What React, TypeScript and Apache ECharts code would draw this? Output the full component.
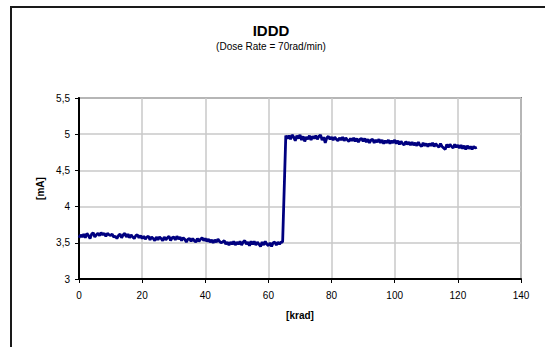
import React, { useEffect, useRef } from "react";
import * as echarts from "echarts";

// krad sampling: first segment starts at 0, second at 65.5, step 0.5
const segAStart = 0;
const segBStart = 65.5;
const step = 0.5;

const segAValues = [
  3.57, 3.61, 3.58, 3.62, 3.57, 3.63, 3.60, 3.56, 3.62, 3.64,
  3.58, 3.61, 3.63, 3.60, 3.64, 3.61, 3.63, 3.59, 3.63, 3.61,
  3.60, 3.62, 3.58, 3.59, 3.56, 3.60, 3.62, 3.57, 3.61, 3.63,
  3.58, 3.62, 3.57, 3.61, 3.58, 3.56, 3.60, 3.61, 3.57, 3.60,
  3.56, 3.59, 3.55, 3.58, 3.59, 3.54, 3.58, 3.56, 3.53, 3.58,
  3.54, 3.58, 3.56, 3.53, 3.58, 3.54, 3.57, 3.59, 3.53, 3.57,
  3.58, 3.54, 3.59, 3.55, 3.58, 3.53, 3.57, 3.55, 3.51, 3.55,
  3.56, 3.52, 3.56, 3.53, 3.51, 3.56, 3.52, 3.55, 3.57, 3.53,
  3.56, 3.52, 3.55, 3.51, 3.54, 3.50, 3.54, 3.51, 3.55, 3.52,
  3.50, 3.51, 3.53, 3.48, 3.51, 3.47, 3.51, 3.48, 3.52, 3.47,
  3.51, 3.48, 3.52, 3.47, 3.51, 3.53, 3.48, 3.51, 3.46, 3.52,
  3.48, 3.52, 3.47, 3.51, 3.48, 3.45, 3.51, 3.47, 3.52, 3.48,
  3.46, 3.50, 3.45, 3.50, 3.51, 3.47, 3.51, 3.48, 3.51, 3.51,
];

const segBValues = [
  4.98,
  4.94, 4.98, 4.93, 4.99, 4.96, 4.91, 4.98, 4.94, 4.99,
  4.92, 4.97, 4.90, 4.96, 4.93, 4.98, 4.92, 4.97, 4.94, 4.98,
  4.93, 4.97, 4.99, 4.92, 4.96, 4.88, 4.95, 4.97, 4.93, 4.96,
  4.92, 4.96, 4.93, 4.91, 4.95, 4.92, 4.96, 4.91, 4.95, 4.92,
  4.90, 4.94, 4.91, 4.95, 4.90, 4.94, 4.89, 4.93, 4.94, 4.90,
  4.94, 4.89, 4.93, 4.88, 4.92, 4.93, 4.88, 4.92, 4.89, 4.93,
  4.88, 4.92, 4.87, 4.91, 4.88, 4.92, 4.87, 4.91, 4.88, 4.92,
  4.87, 4.91, 4.86, 4.90, 4.87, 4.85, 4.90, 4.86, 4.89, 4.85,
  4.89, 4.85, 4.88, 4.84, 4.89, 4.85, 4.83, 4.88, 4.84, 4.87,
  4.83, 4.87, 4.84, 4.88, 4.83, 4.87, 4.84, 4.82, 4.87, 4.83,
  4.81, 4.79, 4.86, 4.82, 4.86, 4.83, 4.81, 4.86, 4.82, 4.85,
  4.81, 4.85, 4.80, 4.84, 4.79, 4.84, 4.80, 4.83, 4.79, 4.83,
  4.81, 4.82,
];

const xTicks = [0, 20, 40, 60, 80, 100, 120, 140];
const yTicks = [3, 3.5, 4, 4.5, 5, 5.5];

const titleText = "IDDD";
const subtitleText = "(Dose Rate = 70rad/min)";
const xName = "[krad]";
const yName = "[mA]";

const FONT = "Arial, 'Liberation Sans', sans-serif";

export default function App() {
  const ref = useRef<HTMLDivElement>(null);

  useEffect(() => {
    if (!ref.current) return;
    const chart = echarts.init(ref.current, null, { renderer: "svg" });

    const data: [number, number][] = [];
    segAValues.forEach((v, i) => data.push([segAStart + i * step, v]));
    segBValues.forEach((v, i) => data.push([segBStart + i * step, v]));

    chart.setOption({
      animation: false,
      backgroundColor: "#ffffff",
      title: [
        {
          text: titleText,
          left: 266,
          top: 18,
          textAlign: "center",
          textStyle: { fontFamily: FONT, fontSize: 15, fontWeight: "bold", color: "#000" },
        },
        {
          text: subtitleText,
          left: 266,
          top: 36,
          textAlign: "center",
          textStyle: { fontFamily: FONT, fontSize: 10, fontWeight: "normal", color: "#000" },
        },
      ],
      graphic: [
        {
          type: "rect",
          shape: { x: 11, y: 7, width: 600, height: 400 },
          style: { fill: "none", stroke: "#1a1a1a", lineWidth: 2 },
          silent: true,
        },
      ],
      grid: {
        left: 79,
        right: 24,
        top: 98,
        bottom: 68,
        show: true,
        borderColor: "#808080",
        borderWidth: 2,
        backgroundColor: "#ffffff",
      },
      xAxis: {
        type: "value",
        min: xTicks[0],
        max: xTicks[xTicks.length - 1],
        interval: 20,
        name: xName,
        nameLocation: "middle",
        nameGap: 31,
        nameTextStyle: { fontFamily: FONT, fontSize: 10, fontWeight: "bold", color: "#000" },
        axisLine: { show: true, onZero: false, lineStyle: { color: "#000", width: 2 } },
        axisTick: { show: true, length: 4, inside: false, lineStyle: { color: "#000", width: 1 } },
        axisLabel: { fontFamily: FONT, fontSize: 10, color: "#000", margin: 11 },
        splitLine: { show: true, lineStyle: { color: "#c8c8c8", width: 1.5 } },
      },
      yAxis: {
        type: "value",
        min: yTicks[0],
        max: yTicks[yTicks.length - 1],
        interval: 0.5,
        name: yName,
        nameLocation: "middle",
        nameGap: 33,
        nameTextStyle: { fontFamily: FONT, fontSize: 10, fontWeight: "bold", color: "#000" },
        axisLine: { show: true, onZero: false, lineStyle: { color: "#000", width: 2 } },
        axisTick: { show: true, length: 4, inside: false, lineStyle: { color: "#000", width: 1 } },
        axisLabel: {
          fontFamily: FONT,
          fontSize: 10,
          color: "#000",
          margin: 9,
          formatter: (v: number) => String(v).replace(".", ","),
        },
        splitLine: { show: true, lineStyle: { color: "#c8c8c8", width: 1.5 } },
      },
      series: [
        {
          type: "line",
          data,
          showSymbol: false,
          symbol: "none",
          lineStyle: { color: "#000080", width: 2.8 },
          z: 3,
        },
      ],
    });

    return () => chart.dispose();
  }, []);

  return (
    <div
      ref={ref}
      style={{ position: "fixed", left: 0, top: 0, width: 545, height: 347, background: "#fff" }}
    />
  );
}
